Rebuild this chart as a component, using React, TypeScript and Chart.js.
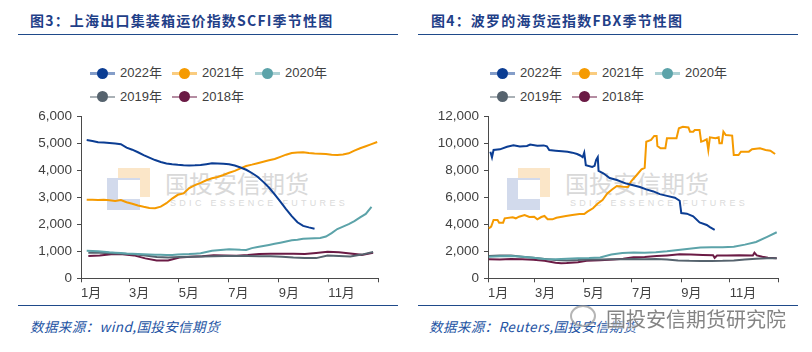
import React, { useEffect, useRef } from 'react';
import { Chart, registerables } from 'chart.js';

Chart.register(...registerables);

// ---------- shared labels ----------
const SERIES_NAMES = ['2022年', '2021年', '2020年', '2019年', '2018年'];
const SERIES_COLORS = ['#0b3d93', '#f59a00', '#5ca3a9', '#56636e', '#6b1b45'];
const MONTH_TICK_DAYS = [0, 59, 120, 181, 243, 304, 365];
const MONTH_LABELS = ['1月', '3月', '5月', '7月', '9月', '11月', ''];

// ---------- SCFI (weekly, day of year = start + step * i) ----------
const SCFI_WEEKLY_START = 7;
const SCFI_WEEKLY_STEP = 7;
const SCFI_2022 = [5134, 5100, 5055, 5040, 5022, 5005, 4980, 4850, 4775, 4680, 4575, 4480, 4390, 4320, 4265, 4235, 4215, 4200, 4192, 4195, 4206, 4235, 4268, 4260, 4250, 4235, 4185, 4115, 4030, 3910, 3770, 3580, 3370, 3120, 2850, 2570, 2310, 2080, 1945, 1890, 1841];
const SCFI_2021 = [2919, 2912, 2906, 2912, 2900, 2870, 2906, 2825, 2768, 2705, 2655, 2610, 2600, 2660, 2790, 2960, 3100, 3150, 3350, 3460, 3545, 3640, 3715, 3760, 3834, 3920, 3990, 4080, 4170, 4220, 4275, 4330, 4380, 4430, 4510, 4590, 4650, 4670, 4677, 4650, 4630, 4620, 4614, 4590, 4580, 4600, 4640, 4740, 4830, 4905, 4980, 5060];
const SCFI_2020 = [1025, 1015, 1000, 985, 965, 950, 935, 920, 912, 905, 895, 885, 875, 870, 865, 868, 880, 890, 900, 915, 930, 975, 1020, 1040, 1060, 1076, 1070, 1060, 1055, 1120, 1160, 1200, 1240, 1280, 1322, 1365, 1410, 1430, 1465, 1480, 1490, 1496, 1550, 1680, 1830, 1920, 2010, 2120, 2260, 2390, 2650];
const SCFI_BIWEEKLY_START = 9;
const SCFI_BIWEEKLY_STEP = 14;
const SCFI_2019 = [951, 945, 930, 915, 890, 850, 790, 770, 790, 800, 810, 820, 830, 825, 830, 820, 815, 800, 770, 750, 750, 850, 830, 810, 880, 980];
const SCFI_2018 = [830, 850, 890, 895, 850, 740, 660, 665, 770, 800, 815, 860, 850, 840, 865, 900, 910, 915, 915, 900, 940, 985, 970, 920, 870, 950];

// ---------- FBX (day of year, value) ----------
const FBX_2022_DAYS = [3, 5, 7, 15, 24, 32, 40, 49, 53, 62, 70, 74, 77, 85, 93, 100, 106, 112, 116, 119, 121, 123, 131, 134, 136, 138, 139, 145, 153, 162, 173, 180, 191, 199, 208, 216, 225, 235, 241, 243, 250, 258, 266, 275, 279, 285];
const FBX_2022 = [9400, 8985, 9527, 9578, 9772, 9880, 9780, 9822, 9930, 9850, 9870, 9800, 9527, 9480, 9440, 9400, 9330, 9230, 9120, 8990, 9330, 8400, 8270, 8350, 8800, 9000, 7980, 7800, 7450, 7300, 7050, 6950, 6780, 6600, 6450, 6250, 6120, 5980, 5760, 4850, 4800, 4600, 4150, 3960, 3800, 3600];
const FBX_2021_DAYS = [1, 4, 7, 12, 14, 19, 21, 31, 35, 39, 46, 52, 58, 62, 67, 71, 75, 81, 86, 98, 106, 115, 121, 125, 132, 138, 144, 150, 156, 162, 170, 176, 180, 187, 193, 197, 199, 205, 209, 212, 213, 217, 223, 225, 237, 240, 245, 252, 254, 258, 260, 266, 268, 271, 275, 277, 279, 286, 290, 291, 294, 296, 299, 307, 309, 315, 318, 328, 332, 342, 349, 355, 361];
const FBX_2021 = [3713, 3832, 4329, 4330, 4131, 4131, 4455, 4529, 4455, 4574, 4700, 4550, 4574, 4381, 4550, 4626, 4381, 4381, 4500, 4626, 4700, 4775, 4775, 4950, 5198, 5550, 5814, 6300, 6600, 6854, 6800, 6780, 7200, 7671, 8094, 8200, 10143, 10270, 10567, 10567, 9822, 9650, 9650, 10395, 10395, 11138, 11257, 11200, 10886, 10886, 11012, 11012, 10143, 10200, 10322, 9527, 10470, 10400, 10470, 10024, 10024, 10886, 10641, 10600, 9155, 9155, 9403, 9403, 9578, 9650, 9527, 9480, 9230];
const FBX_BASE_DAYS = [1, 15, 29, 43, 57, 71, 85, 99, 113, 127, 141, 155, 169, 183, 197, 211, 225, 239, 253, 267, 281, 295, 309, 323, 337, 351, 363];
const FBX_2020 = [1604, 1640, 1656, 1600, 1520, 1430, 1411, 1450, 1485, 1500, 1540, 1760, 1880, 1920, 1900, 1930, 2000, 2100, 2200, 2280, 2300, 2310, 2350, 2500, 2700, 3080, 3420];
const FBX_2019 = [1656, 1700, 1690, 1600, 1520, 1440, 1360, 1330, 1350, 1390, 1400, 1410, 1420, 1440, 1420, 1430, 1400, 1330, 1300, 1290, 1290, 1300, 1330, 1400, 1460, 1480, 1480];
const FBX_2018_DAYS = [1, 15, 29, 43, 57, 71, 85, 92, 99, 113, 124, 141, 158, 170, 183, 197, 212, 225, 241, 255, 270, 283, 285, 288, 300, 316, 333, 335, 338, 345, 352, 363];
const FBX_2018 = [1411, 1400, 1430, 1420, 1380, 1300, 1160, 1110, 1130, 1200, 1300, 1340, 1400, 1450, 1560, 1580, 1650, 1700, 1780, 1760, 1730, 1720, 1520, 1690, 1700, 1720, 1700, 1900, 1700, 1600, 1520, 1480];

const FONT = '"Liberation Sans", "Noto Sans CJK SC", sans-serif';
const CJK = '"Noto Sans CJK SC", "Liberation Sans", sans-serif';
const AXIS_COLOR = '#4a4a4a';
const TEXT_COLOR = '#404040';
const RULE_COLOR = '#1f4a8a';

type XY = { x: number; y: number };
const regular = (start: number, step: number, vals: number[]): XY[] => vals.map((v, i) => ({ x: start + step * i, y: v }));
const paired = (days: number[], vals: number[]): XY[] => vals.map((v, i) => ({ x: days[i], y: v }));

const SCFI_SERIES: XY[][] = [
  regular(SCFI_WEEKLY_START, SCFI_WEEKLY_STEP, SCFI_2022),
  regular(SCFI_WEEKLY_START, SCFI_WEEKLY_STEP, SCFI_2021),
  regular(SCFI_WEEKLY_START, SCFI_WEEKLY_STEP, SCFI_2020),
  regular(SCFI_BIWEEKLY_START, SCFI_BIWEEKLY_STEP, SCFI_2019),
  regular(SCFI_BIWEEKLY_START, SCFI_BIWEEKLY_STEP, SCFI_2018),
];
const FBX_SERIES: XY[][] = [
  paired(FBX_2022_DAYS, FBX_2022),
  paired(FBX_2021_DAYS, FBX_2021),
  paired(FBX_BASE_DAYS, FBX_2020),
  paired(FBX_BASE_DAYS, FBX_2019),
  paired(FBX_2018_DAYS, FBX_2018),
];

type PanelProps = {
  left: number;
  title: string;
  titleLeft: number;
  source: string;
  sourceLeft: number;
  series: XY[][];
  yMax: number;
  yStep: number;
  yAxisWidth: number;
  padRight: number;
  ruleLeft: number;
  legendLeft: number;
  wmLeft: number;
};

function LegendItem({ x, y, color, name }: { x: number; y: number; color: string; name: string }) {
  return (
    <div style={{ position: 'absolute', left: x, top: y - 9, height: 18, display: 'flex', alignItems: 'center', whiteSpace: 'nowrap' }}>
      <div style={{ position: 'relative', width: 25, height: 18 }}>
        <div style={{ position: 'absolute', left: 0, top: 8, width: 25, height: 2.5, background: color, opacity: 0.5 }} />
        <div style={{ position: 'absolute', left: 7, top: 3.5, width: 11, height: 11, borderRadius: '50%', background: color }} />
      </div>
      <span style={{ marginLeft: 5, font: `13px ${FONT}`, color: TEXT_COLOR, lineHeight: '18px' }}>{name}</span>
    </div>
  );
}

function Panel(p: PanelProps) {
  const ref = useRef<HTMLCanvasElement | null>(null);
  useEffect(() => {
    if (!ref.current) return;
    const chart = new Chart(ref.current, {
      type: 'line',
      data: {
        datasets: p.series.map((d, i) => ({
          label: SERIES_NAMES[i],
          data: d,
          borderColor: SERIES_COLORS[i],
          backgroundColor: SERIES_COLORS[i],
          borderWidth: 2,
          pointRadius: 0,
          tension: 0,
          fill: false,
        })),
      },
      options: {
        animation: false,
        responsive: false,
        maintainAspectRatio: false,
        layout: { padding: { left: 0, right: p.padRight, top: 116.7, bottom: 352 - 278.3 - 30 } },
        plugins: { legend: { display: false }, tooltip: { enabled: false } },
        scales: {
          x: {
            type: 'linear',
            min: 0,
            max: 365,
            afterBuildTicks: (s: any) => {
              s.ticks = MONTH_TICK_DAYS.map((v) => ({ value: v }));
            },
            afterFit: (s: any) => {
              s.height = 30;
            },
            ticks: {
              autoSkip: false,
              maxRotation: 0,
              minRotation: 0,
              align: 'start',
              padding: 3,
              color: TEXT_COLOR,
              font: { family: FONT, size: 13 },
              callback: (_v: any, i: number) => MONTH_LABELS[i] ?? '',
            },
            grid: { display: true, drawOnChartArea: false, drawTicks: true, tickLength: 4, color: AXIS_COLOR, lineWidth: 1 },
            border: { display: true, color: AXIS_COLOR, width: 1 },
          },
          y: {
            type: 'linear',
            min: 0,
            max: p.yMax,
            afterFit: (s: any) => {
              s.width = p.yAxisWidth;
            },
            ticks: {
              stepSize: p.yStep,
              padding: 5,
              color: TEXT_COLOR,
              font: { family: FONT, size: 13.5 },
              callback: (v: any) => Number(v).toLocaleString('en-US'),
            },
            grid: { display: true, drawOnChartArea: false, drawTicks: true, tickLength: 4, color: AXIS_COLOR, lineWidth: 1 },
            border: { display: true, color: AXIS_COLOR, width: 1 },
          },
        },
      } as any,
    });
    return () => chart.destroy();
  }, []);

  const L = p.legendLeft;
  const W = p.wmLeft;
  return (
    <div style={{ position: 'absolute', left: p.left, top: 0, width: 406, height: 352, overflow: 'hidden' }}>
      <div style={{ position: 'absolute', left: p.titleLeft, top: 10, lineHeight: '20px', font: `bold 14px ${CJK}`, letterSpacing: '1.2px', color: '#1f4088', whiteSpace: 'nowrap' }}>{p.title}</div>
      <div style={{ position: 'absolute', left: p.ruleLeft, top: 33.5, width: 380, height: 1.8, background: RULE_COLOR }} />
      <div style={{ position: 'absolute', left: p.ruleLeft, top: 304.5, width: 380, height: 1.8, background: RULE_COLOR }} />
      <div style={{ position: 'absolute', left: p.sourceLeft, top: 316, lineHeight: '20px', font: `italic 13.5px ${CJK}`, letterSpacing: '0.4px', color: '#2353a3', whiteSpace: 'nowrap' }}>{p.source}</div>

      {/* plot watermark */}
      <div style={{ position: 'absolute', left: W + 11, top: 168, width: 32, height: 29, background: '#fbe6c8' }} />
      <div style={{ position: 'absolute', left: W, top: 178, width: 33, height: 32, background: '#d2daec' }} />
      <div style={{ position: 'absolute', left: W + 11, top: 180, width: 22, height: 19, background: '#ffffff' }} />
      <div style={{ position: 'absolute', left: W + 58, top: 165, lineHeight: '30px', font: `24px ${CJK}`, color: '#d9d9d9', whiteSpace: 'nowrap', letterSpacing: '0px' }}>国投安信期货</div>
      <div style={{ position: 'absolute', left: W + 63, top: 198, lineHeight: '12px', font: `9px ${FONT}`, color: '#dadada', whiteSpace: 'nowrap', letterSpacing: '3.3px' }}>SDIC ESSENCE FUTURES</div>

      {/* legend */}
      <LegendItem x={L} y={73.3} color={SERIES_COLORS[0]} name={SERIES_NAMES[0]} />
      <LegendItem x={L + 82} y={73.3} color={SERIES_COLORS[1]} name={SERIES_NAMES[1]} />
      <LegendItem x={L + 165} y={73.3} color={SERIES_COLORS[2]} name={SERIES_NAMES[2]} />
      <LegendItem x={L} y={96.7} color={SERIES_COLORS[3]} name={SERIES_NAMES[3]} />
      <LegendItem x={L + 82} y={96.7} color={SERIES_COLORS[4]} name={SERIES_NAMES[4]} />

      <canvas ref={ref} width={406} height={352} style={{ position: 'absolute', left: 0, top: 0, width: 406, height: 352, zIndex: 1 }} />
    </div>
  );
}

export default function App() {
  return (
    <div style={{ position: 'fixed', left: 0, top: 0, width: 812, height: 352, background: '#ffffff', overflow: 'hidden' }}>
      <Panel
        left={0}
        title="图3：上海出口集装箱运价指数SCFI季节性图"
        titleLeft={30}
        source="数据来源：wind,国投安信期货"
        sourceLeft={30}
        series={SCFI_SERIES}
        yMax={6000}
        yStep={1000}
        yAxisWidth={81}
        padRight={28}
        ruleLeft={18}
        legendLeft={90}
        wmLeft={107}
      />
      <Panel
        left={406}
        title="图4：波罗的海货运指数FBX季节性图"
        titleLeft={25}
        source="数据来源：Reuters,国投安信期货"
        sourceLeft={23}
        series={FBX_SERIES}
        yMax={12000}
        yStep={2000}
        yAxisWidth={82}
        padRight={33.7}
        ruleLeft={12}
        legendLeft={84}
        wmLeft={101}
      />
      {/* WeChat account watermark */}
      <div style={{ position: 'absolute', left: 570, top: 305, width: 22, height: 18, borderRadius: '50%', border: '2px solid rgba(150,150,150,0.7)', zIndex: 3 }} />
      <div style={{ position: 'absolute', left: 606, top: 304, lineHeight: '26px', font: `20px ${CJK}`, color: 'rgba(110,110,110,0.85)', textShadow: '0 0 2px #fff, 0 0 2px #fff', whiteSpace: 'nowrap', zIndex: 3 }}>国投安信期货研究院</div>
    </div>
  );
}
